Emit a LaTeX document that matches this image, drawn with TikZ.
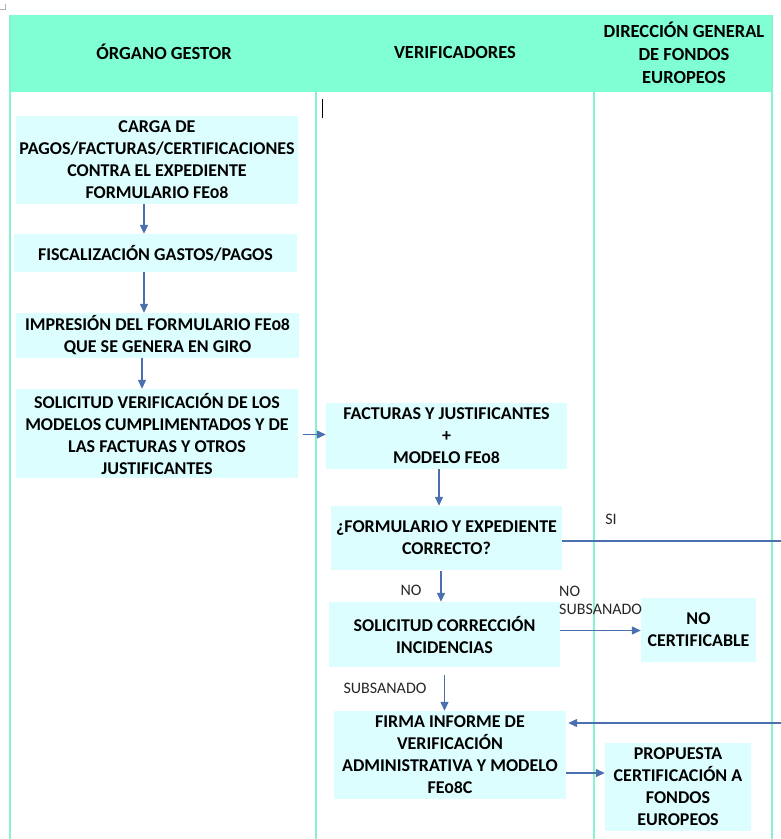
\documentclass[tikz,border=0pt]{standalone}
\usepackage{fontspec}
\setmainfont{Carlito}[Numbers=OldStyle]
\usetikzlibrary{arrows.meta}
\definecolor{headc}{HTML}{80FFD4}
\definecolor{boxc}{HTML}{DDFEFE}
\definecolor{lanec}{HTML}{86F2CE}
\definecolor{arrc}{HTML}{4A70B0}
\begin{document}
\begin{tikzpicture}[x=1pt,y=-1pt,
 box/.style={fill=boxc, text=black, font=\fontsize{18}{22}\selectfont\bfseries, align=center, inner sep=0pt},
 lbl/.style={text=black!85, font=\fontsize{16}{18}\selectfont, align=left, inner sep=0pt},
 head/.style={text=black, font=\fontsize{18.5}{23}\selectfont\bfseries, align=center, inner sep=0pt},
 arr/.style={draw=arrc, line width=1.3pt, -{Triangle[length=9pt,width=8pt]}},
 plain/.style={draw=arrc, line width=1.3pt},
 lane/.style={draw=lanec, line width=1.5pt}]
\useasboundingbox (0,0) rectangle (781,839);
% header band and lanes
\fill[headc] (10,15) rectangle (772,92);
\draw[lane] (10,15) -- (10,839);
\draw[lane] (316,92) -- (316,839);
\draw[lane] (594,92) -- (594,839);
\draw[lane] (772,15) -- (772,839);
\draw[gray!60, line width=0.6pt] (0,9) -- (5,9) -- (5,4);
\draw[black, line width=0.8pt] (322,99) -- (322,118);
% header texts
\node[head] (h1) at (164,52) {ÓRGANO GESTOR};
\node[head] (h2) at (455,52) {VERIFICADORES};
\node[head] (h3) at (684,53) {DIRECCIÓN GENERAL\\DE FONDOS\\EUROPEOS};
% boxes
\node[box, minimum width=282pt, minimum height=88pt] (b1) at (157,160) {CARGA DE\\PAGOS/FACTURAS/CERTIFICACIONES\\CONTRA EL EXPEDIENTE\\FORMULARIO FE08};
\node[box, minimum width=283pt, minimum height=38pt] (b2) at (155.5,253) {FISCALIZACIÓN GASTOS/PAGOS};
\node[box, minimum width=283pt, minimum height=45pt] (b3) at (157.5,335.5) {IMPRESIÓN DEL FORMULARIO FE08\\QUE SE GENERA EN GIRO};
\node[box, minimum width=282pt, minimum height=89pt] (b4) at (157,433.5) {SOLICITUD VERIFICACIÓN DE LOS\\MODELOS CUMPLIMENTADOS Y DE\\LAS FACTURAS Y OTROS\\JUSTIFICANTES};
\node[box, minimum width=241pt, minimum height=66pt] (b5) at (446.5,436) {FACTURAS Y JUSTIFICANTES\\+\\MODELO FE08};
\node[box, minimum width=231pt, minimum height=64pt] (b6) at (446.5,538) {¿FORMULARIO Y EXPEDIENTE\\CORRECTO?};
\node[box, minimum width=231pt, minimum height=65pt] (b7) at (444.5,634.5) {SOLICITUD CORRECCIÓN\\INCIDENCIAS};
\node[box, minimum width=115pt, minimum height=64pt] (b8) at (698.5,630) {NO\\CERTIFICABLE};
\node[box, minimum width=232pt, minimum height=88pt] (b9) at (450,755) {FIRMA INFORME DE\\VERIFICACIÓN\\ADMINISTRATIVA Y MODELO\\FE08C};
\node[box, minimum width=146pt, minimum height=88pt] (b10) at (678,787) {PROPUESTA\\CERTIFICACIÓN A\\FONDOS\\EUROPEOS};
% labels
\node[lbl] (lno) at (411,590) {NO};
\node[lbl] (lsi) at (611,519) {SI};
\node[lbl, anchor=west] (lns) at (559,600) {NO\\SUBSANADO};
\node[lbl] (lsub) at (385,688) {SUBSANADO};
% free ends at right edge
\coordinate (r1) at (781,541);
\coordinate (r2) at (781,723);
% connectors
\draw[arr] ([xshift=-13pt]b1.south) -- ([xshift=-13pt]b1.south |- b2.north);
\draw[arr] ([xshift=-11.5pt]b2.south) -- ([xshift=-11.5pt]b2.south |- b3.north);
\draw[arr] ([xshift=-15.5pt]b3.south) -- ([xshift=-15.5pt]b3.south |- b4.north);
\draw[arr] ([xshift=5pt,yshift=-1pt]b4.east) -- ([yshift=-1pt]b4.east -| b5.west);
\draw[arr] ([xshift=-7.5pt]b5.south) -- ([xshift=-7.5pt]b5.south |- b6.north);
\draw[arr] ([xshift=-5.5pt,yshift=-1pt]b6.south) -- ([xshift=-5.5pt]b6.south |- b7.north);
\draw[plain] (b6.east |- r1) -- (r1);
\draw[arr] ([yshift=4pt]b7.east) -- ([yshift=4pt]b7.east -| b8.west);
\draw[arr] ([yshift=-8pt]b7.south) -- (b7.south |- b9.north);
\draw[arr] (r2) -- ([xshift=2pt]r2 -| b9.east);
\draw[arr] ([yshift=-18pt]b9.east) -- ([yshift=-18pt]b9.east -| b10.west);
\end{tikzpicture}
\end{document}
